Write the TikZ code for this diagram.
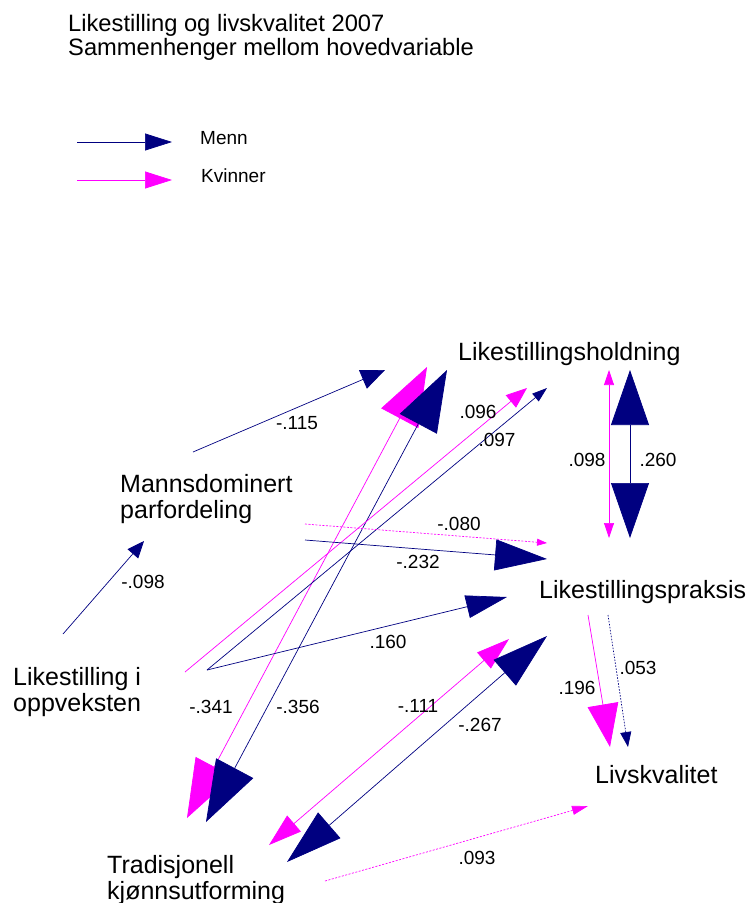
\documentclass[tikz,border=0pt]{standalone}
\usepackage{fontspec}
\setmainfont{Liberation Sans}
\usetikzlibrary{arrows.meta}

\definecolor{menn}{RGB}{0,0,128}
\definecolor{kvinner}{RGB}{255,0,255}

\tikzset{
  variabel/.style={font=\fontsize{25}{26}\selectfont, anchor=west, align=left, inner sep=0pt},
  koef/.style={font=\fontsize{19}{21}\selectfont, inner sep=0pt},
  mann/.style={draw=menn, line width=0.7pt},
  kvinne/.style={draw=kvinner, line width=0.7pt},
  prikket/.style={dash pattern=on 2pt off 1.5pt},
  pil/.style 2 args={-{Triangle[length=#1pt,width=#2pt]}},
  dpil/.style 2 args={{Triangle[length=#1pt,width=#2pt]}-{Triangle[length=#1pt,width=#2pt]}}
}

\begin{document}
\begin{tikzpicture}[x=1pt, y=-1pt]
    \useasboundingbox (0,0) rectangle (751,903);

    \node[variabel, font=\fontsize{23.7}{24}\selectfont] (tittel) at (68,37) {Likestilling og livskvalitet 2007\\Sammenhenger mellom hovedvariable};

    % forklaring
    \coordinate (menn-a) at (77,142);
    \coordinate (menn-b) at (172,142);
    \coordinate (kvinner-a) at (77,180);
    \coordinate (kvinner-b) at (172,180);
    \draw[mann, pil={27}{17}] (menn-a) -- (menn-b);
    \draw[kvinne, pil={27}{17}] (kvinner-a) -- (kvinner-b);
    \node[koef, anchor=west] (menn) at (200,138) {Menn};
    \node[koef, anchor=west] (kvinner) at (201,176) {Kvinner};

    % variable
    \node[variabel] (holdning) at (458,354) {Likestillingsholdning};
    \node[variabel] (parfordeling) at (120,499) {Mannsdominert\\parfordeling};
    \node[variabel] (praksis) at (539,592) {Likestillingspraksis};
    \node[variabel] (oppvekst) at (13,692) {Likestilling i\\oppveksten};
    \node[variabel] (tradisjonell) at (107,880) {Tradisjonell\\kjønnsutforming};
    \node[variabel] (livskvalitet) at (595,775) {Livskvalitet};

    % endepunkter
    \coordinate (par1) at (193,452);  \coordinate (hold1) at (385,370);
    \coordinate (opp1) at (63,634);   \coordinate (par2) at (144,541);
    \coordinate (trad1) at (187,818); \coordinate (hold2) at (427,367);
    \coordinate (trad2) at (206,822); \coordinate (hold3) at (447,370);
    \coordinate (opp2) at (185,672);  \coordinate (hold4) at (527,388);
    \coordinate (opp3) at (207,670);  \coordinate (hold5) at (547,388);
    \coordinate (prak1) at (507,597);
    \coordinate (par3) at (305,524);  \coordinate (prak2) at (547,543);
    \coordinate (par4) at (305,540);  \coordinate (prak3) at (547,559);
    \coordinate (hold6) at (609,370); \coordinate (prak4) at (609,538);
    \coordinate (hold7) at (630,370); \coordinate (prak5) at (630,538);
    \coordinate (prak6) at (588,615); \coordinate (liv1) at (610,747);
    \coordinate (prak7) at (608,615); \coordinate (liv2) at (628,747);
    \coordinate (trad3) at (269,845); \coordinate (prak8) at (509,639);
    \coordinate (trad4) at (287,862); \coordinate (prak9) at (547,636);
    \coordinate (trad5) at (325,881); \coordinate (liv3) at (588,806);

    \draw[mann, pil={24}{20}] (par1) -- (hold1);
    \draw[mann, pil={17}{14}] (opp1) -- (par2);
    \draw[kvinne, dpil={58}{42}] (trad1) -- (hold2);
    \draw[mann, dpil={61}{42}] (trad2) -- (hold3);
    \draw[kvinne, pil={21}{16}] (opp2) -- (hold4);
    \draw[mann, pil={15}{10}] (opp3) -- (hold5);
    \draw[mann, pil={41}{23}] (opp3) -- (prak1);
    \draw[kvinne, prikket, pil={10}{7}] (par3) -- (prak2);
    \draw[mann, pil={52}{31}] (par4) -- (prak3);
    \draw[kvinne, dpil={15}{10}] (hold6) -- (prak4);
    \draw[mann, dpil={55}{38}] (hold7) -- (prak5);
    \draw[kvinne, pil={43}{31}] (prak6) -- (liv1);
    \draw[mann, dash pattern=on 1.5pt off 1.5pt, pil={15}{11}] (prak7) -- (liv2);
    \draw[kvinne, dpil={33}{21}] (trad3) -- (prak8);
    \draw[mann, dpil={56}{34}] (trad4) -- (prak9);
    \draw[kvinne, prikket, pil={16}{9}] (trad5) -- (liv3);

    % koeffisienter
    \node[koef] (k115) at (297,423) {-.115};
    \node[koef] (k098m) at (143,582) {-.098};
    \node[koef] (k341) at (211,707) {-.341};
    \node[koef] (k356) at (298,707) {-.356};
    \node[koef] (k096) at (478,412) {.096};
    \node[koef] (k097) at (497,440) {.097};
    \node[koef] (k160) at (388,642) {.160};
    \node[koef] (k080) at (459,524) {-.080};
    \node[koef] (k232) at (418,562) {-.232};
    \node[koef] (k098) at (587,460) {.098};
    \node[koef] (k260) at (658,460) {.260};
    \node[koef] (k196) at (577,688) {.196};
    \node[koef] (k053) at (638,668) {.053};
    \node[koef] (k111) at (418,706) {-.111};
    \node[koef] (k267) at (480,725) {-.267};
    \node[koef] (k093) at (477,858) {.093};

\end{tikzpicture}
\end{document}
